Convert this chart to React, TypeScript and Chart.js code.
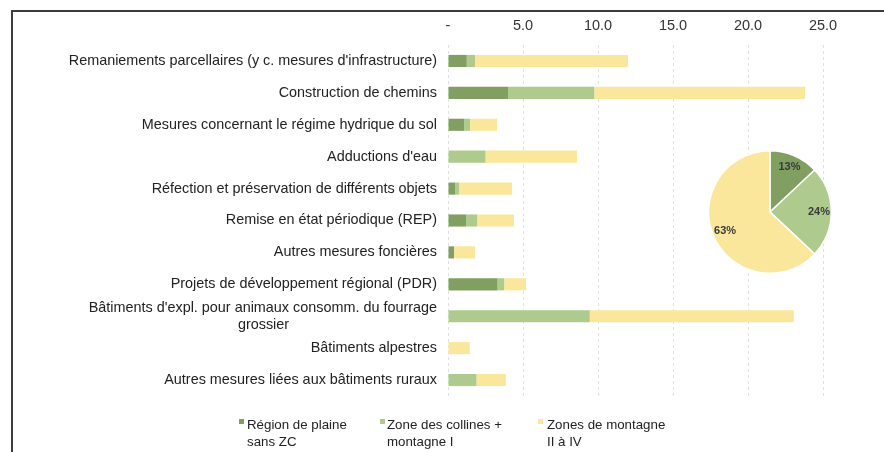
import React, { useEffect, useRef } from "react";
import { Chart, registerables } from "chart.js";

Chart.register(...registerables);

const categories: (string | string[])[] = [
  "Remaniements parcellaires (y c. mesures d'infrastructure)",
  "Construction de chemins",
  "Mesures concernant le régime hydrique du sol",
  "Adductions d'eau",
  "Réfection et préservation de différents objets",
  "Remise en état périodique (REP)",
  "Autres mesures foncières",
  "Projets de développement régional (PDR)",
  ["Bâtiments d'expl. pour animaux consomm. du fourrage", "grossier"],
  "Bâtiments alpestres",
  "Autres mesures liées aux bâtiments ruraux",
];

const seriesNames: string[][] = [
  ["Région de plaine", "sans ZC"],
  ["Zone des collines +", "montagne I"],
  ["Zones de montagne", "II à IV"],
];

const plaine = [1.25, 4.0, 1.07, 0, 0.47, 1.2, 0.4, 3.3, 0, 0, 0];
const collines = [0.55, 5.75, 0.4, 2.5, 0.27, 0.75, 0, 0.45, 9.45, 0, 1.9];
const montagne = [10.2, 14.05, 1.8, 6.1, 3.53, 2.45, 1.4, 1.45, 13.6, 1.45, 1.95];

const pieShares = [13, 24, 63];

const xMin = 0;
const xMax = 30;
const xStep = 5;
const xLastLabelled = 25;

const colors = ["#809f60", "#aecb8d", "#fbe79b"];
const FONT = '"Liberation Sans", Arial, sans-serif';

function centerLines(lines: string[], font: string): string[] {
  const c = document.createElement("canvas").getContext("2d")!;
  c.font = font;
  const widths = lines.map((l) => c.measureText(l).width);
  const maxW = Math.max(...widths);
  const sp = c.measureText("\u00A0").width || 3.6;
  return lines.map((l, i) => {
    const n = Math.round((maxW - widths[i]) / 2 / sp);
    return l + "\u00A0".repeat(n);
  });
}

const pieLabelPlugin = {
  id: "pieLabels",
  afterDatasetsDraw(chart: any) {
    const ctx = chart.ctx;
    const meta = chart.getDatasetMeta(0);
    const data = chart.data.datasets[0].data as number[];
    ctx.save();
    ctx.font = `bold 11px ${FONT}`;
    ctx.fillStyle = "#3a3a3a";
    ctx.textAlign = "center";
    ctx.textBaseline = "middle";
    meta.data.forEach((arc: any, i: number) => {
      const p = arc.getProps(["x", "y", "startAngle", "endAngle", "outerRadius"], true);
      const mid = (p.startAngle + p.endAngle) / 2;
      const r = p.outerRadius * 0.8;
      ctx.fillText(`${data[i]}%`, p.x + Math.cos(mid) * r, p.y + Math.sin(mid) * r);
    });
    ctx.restore();
  },
};

export default function App() {
  const barRef = useRef<HTMLCanvasElement>(null);
  const pieRef = useRef<HTMLCanvasElement>(null);

  useEffect(() => {
    const labelFont = `14.4px ${FONT}`;
    const bar = new Chart(barRef.current!, {
      type: "bar",
      data: {
        labels: categories as any,
        datasets: [
          { label: seriesNames[0].join(" "), data: plaine, backgroundColor: colors[0] },
          { label: seriesNames[1].join(" "), data: collines, backgroundColor: colors[1] },
          { label: seriesNames[2].join(" "), data: montagne, backgroundColor: colors[2] },
        ],
      },
      options: {
        indexAxis: "y",
        responsive: false,
        animation: false,
        devicePixelRatio: 1,
        layout: { padding: { top: 0, right: 24, bottom: 56, left: 0 } },
        datasets: { bar: { barPercentage: 0.38, categoryPercentage: 1, borderWidth: 0 } },
        plugins: { legend: { display: false }, tooltip: { enabled: false } },
        scales: {
          x: {
            position: "top",
            stacked: true,
            min: xMin,
            max: xMax,
            grid: {
              display: true,
              drawTicks: false,
              color: "rgba(0,0,0,0.12)",
            },
            border: { display: false, dash: [3, 3] },
            ticks: {
              stepSize: xStep,
              padding: 10,
              color: "#333",
              font: { family: FONT, size: 14.5 },
              callback: (v: any) => {
                const n = Number(v);
                if (n > xLastLabelled) return "";
                return n === 0 ? "-" : n.toFixed(1);
              },
            },
            afterFit: (s: any) => {
              s.height = 35;
            },
          } as any,
          y: {
            stacked: true,
            border: { display: false },
            grid: { display: false, drawTicks: false },
            ticks: {
              autoSkip: false,
              padding: 11,
              color: "#222",
              font: { family: FONT, size: 14.4 },
              callback: function (this: any, v: any) {
                const l = this.getLabelForValue(v);
                return Array.isArray(l) ? centerLines(l, labelFont) : l;
              },
            },
            afterFit: (s: any) => {
              s.width = 436;
            },
          } as any,
        },
      },
    });

    const pie = new Chart(pieRef.current!, {
      type: "pie",
      data: {
        labels: seriesNames.map((s) => s.join(" ")),
        datasets: [
          {
            data: pieShares,
            backgroundColor: colors,
            borderColor: "#ffffff",
            borderWidth: 1.5,
          },
        ],
      },
      options: {
        responsive: false,
        animation: false,
        devicePixelRatio: 1,
        layout: { padding: 0 },
        plugins: { legend: { display: false }, tooltip: { enabled: false } },
      },
      plugins: [pieLabelPlugin],
    });

    return () => {
      bar.destroy();
      pie.destroy();
    };
  }, []);

  const legendX = [
    { box: 239, text: 247 },
    { box: 380, text: 387 },
    { box: 538, text: 547 },
  ];

  return (
    <div
      style={{
        position: "fixed",
        left: 0,
        top: 0,
        width: 884,
        height: 452,
        overflow: "hidden",
        background: "#fff",
        fontFamily: FONT,
      }}
    >
      <div
        style={{
          position: "absolute",
          left: 11,
          top: 10,
          width: 1000,
          height: 1000,
          borderTop: "2px solid #3c3c3c",
          borderLeft: "2px solid #3c3c3c",
        }}
      />
      <canvas
        ref={barRef}
        width={910}
        height={442}
        style={{ position: "absolute", left: 12, top: 10 }}
      />
      <canvas
        ref={pieRef}
        width={124}
        height={124}
        style={{ position: "absolute", left: 708, top: 150 }}
      />
      {seriesNames.map((lines, i) => (
        <React.Fragment key={i}>
          <div
            style={{
              position: "absolute",
              left: legendX[i].box,
              top: 419,
              width: 5,
              height: 5,
              background: colors[i],
            }}
          />
          <div
            style={{
              position: "absolute",
              left: legendX[i].text,
              top: 416,
              fontSize: 13.3,
              lineHeight: "17px",
              color: "#222",
              whiteSpace: "nowrap",
            }}
          >
            {lines[0]}
            <br />
            {lines[1]}
          </div>
        </React.Fragment>
      ))}
    </div>
  );
}
